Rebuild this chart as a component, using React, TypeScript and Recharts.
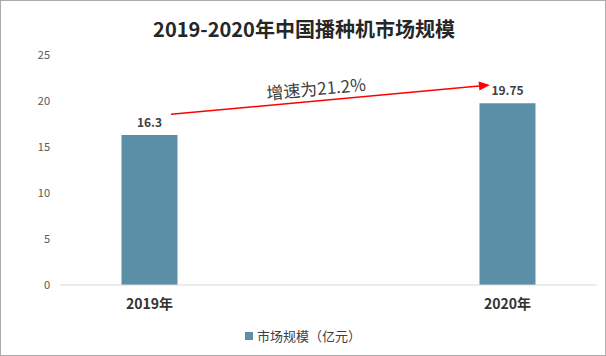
import React from 'react';
import { BarChart, Bar, XAxis, YAxis, LabelList, Legend, ReferenceLine, ReferenceDot } from 'recharts';

const categories = ['2019年', '2020年'];
const marketSize = [16.3, 19.75];
const yTicks = [0, 5, 10, 15, 20, 25];
const growthText = '增速为21.2%';
const arrowFrom = { x: 0.06, y: 18.55 };
const arrowTo = { x: 0.951, y: 21.74 };
const growthLabelPos = { x: 0.465, y: 21.45 };

const data = categories.map((c, i) => ({ x: i, name: c, value: marketSize[i] }));

const FONT = '"Noto Sans CJK SC", "Noto Sans", sans-serif';
const BAR_COLOR = '#5B8FA7';

const ArrowShape = (props: any) => {
  const { x1, y1, x2, y2 } = props;
  if ([x1, y1, x2, y2].some((v) => v == null || isNaN(v))) return null;
  const ang = Math.atan2(y2 - y1, x2 - x1);
  const len = 11;
  const half = 4.5;
  const bx = x2 - len * Math.cos(ang);
  const by = y2 - len * Math.sin(ang);
  const px = -Math.sin(ang) * half;
  const py = Math.cos(ang) * half;
  return (
    <g>
      <line x1={x1} y1={y1} x2={bx} y2={by} stroke="#FF0000" strokeWidth={1.5} />
      <polygon points={`${x2},${y2} ${bx + px},${by + py} ${bx - px},${by - py}`} fill="#FF0000" />
    </g>
  );
};

const GrowthLabel = (props: any) => {
  const { cx, cy } = props;
  if (cx == null || cy == null) return null;
  return (
    <text
      x={cx}
      y={cy}
      textAnchor="middle"
      dominantBaseline="central"
      fontSize={17}
      fill="#404040"
      fontFamily={FONT}
      transform={`rotate(-5.2 ${cx} ${cy})`}
    >
      {growthText}
    </text>
  );
};

const LegendContent = () => (
  <div style={{ display: 'flex', justifyContent: 'center', alignItems: 'center', fontFamily: FONT, fontSize: 13, color: '#404040' }}>
    <span style={{ display: 'inline-block', width: 8, height: 8, background: BAR_COLOR, marginRight: 4 }} />
    <span>市场规模（亿元）</span>
  </div>
);

export default function App() {
  return (
    <div
      style={{
        position: 'absolute',
        left: 0,
        top: 0,
        width: 606,
        height: 356,
        boxSizing: 'border-box',
        border: '1px solid #ababab',
        background: '#fff',
        overflow: 'hidden',
      }}
    >
      <div
        style={{
          position: 'absolute',
          top: 14,
          left: 0,
          width: 606,
          textAlign: 'center',
          fontFamily: FONT,
          fontWeight: 'bold',
          fontSize: 20,
          lineHeight: '28px',
          color: '#262626',
        }}
      >
        2019-2020年中国播种机市场规模
      </div>
      <div style={{ position: 'absolute', left: -1, top: -1 }}>
        <BarChart width={606} height={356} data={data} margin={{ top: 55, right: 9, bottom: 41, left: 0 }}>
          <XAxis
            type="number"
            dataKey="x"
            domain={[-0.25, 1.25]}
            ticks={[0, 1]}
            allowDataOverflow
            tickFormatter={(v: number) => categories[v] ?? ''}
            axisLine={{ stroke: '#D9D9D9' }}
            tickLine={false}
            tickMargin={8}
            tick={{ fontSize: 14, fontWeight: 'bold', fill: '#333333', fontFamily: FONT }}
          />
          <YAxis
            domain={[0, 25]}
            ticks={yTicks}
            width={60}
            axisLine={false}
            tickLine={false}
            tickMargin={4}
            tick={{ fontSize: 11, fill: '#595959', fontFamily: FONT }}
          />
          <Legend
            layout="horizontal"
            verticalAlign="middle"
            align="center"
            wrapperStyle={{ top: 326, left: 0, width: 606 }}
            content={<LegendContent />}
          />
          <Bar dataKey="value" name="市场规模（亿元）" fill={BAR_COLOR} barSize={56} isAnimationActive={false}>
            <LabelList
              dataKey="value"
              position="top"
              offset={8}
              style={{ fontSize: 12, fontWeight: 'bold', fill: '#404040', fontFamily: FONT }}
            />
          </Bar>
          <ReferenceLine segment={[arrowFrom, arrowTo]} shape={<ArrowShape />} ifOverflow="visible" />
          <ReferenceDot x={growthLabelPos.x} y={growthLabelPos.y} r={0} shape={<GrowthLabel />} ifOverflow="visible" />
        </BarChart>
      </div>
    </div>
  );
}
